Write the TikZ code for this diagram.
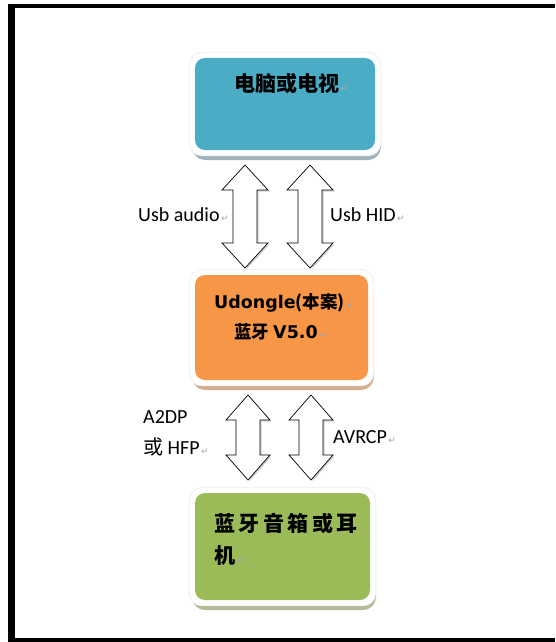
\documentclass[tikz,border=0pt]{standalone}
\usepackage{fontspec}
\setmainfont{Carlito}
\newfontfamily\cjk{Noto Sans CJK SC}
\newfontfamily\djv{DejaVu Sans}
\definecolor{boxblue}{HTML}{4BACC6}
\definecolor{boxorange}{HTML}{F79646}
\definecolor{boxgreen}{HTML}{9BBB59}
\definecolor{shblue}{HTML}{9FB4BA}
\definecolor{shorange}{HTML}{D2AE92}
\definecolor{shgreen}{HTML}{B0BC98}
\newcommand{\pmark}{{\djv\fontsize{9}{9}\selectfont\color{gray!70}\,↵}}
\newcommand{\dblarr}[4]{%
  \fill[gray!35] ({#1+1.5},{#2+1.5}) -- ({#1+#4+1.5},{#2+26.5}) -- ({#1+13.5},{#2+26.5}) -- ({#1+13.5},{#3-23.5}) -- ({#1+#4+1.5},{#3-23.5}) -- ({#1+1.5},{#3+1.5}) -- cycle;
  \draw[arrowline] ({#1},{#2}) -- ({#1+#4},{#2+25}) -- ({#1+12},{#2+25}) -- ({#1+12},{#3-25}) -- ({#1+#4},{#3-25}) -- ({#1},{#3}) -- ({#1-#4},{#3-25}) -- ({#1-12},{#3-25}) -- ({#1-12},{#2+25}) -- ({#1-#4},{#2+25}) -- cycle;}
% rim and shadow behind a box: left, top, right, bottom, shadow colour
\newcommand{\boxrim}[5]{%
  \fill[#5, rounded corners=13pt] ({#1+2},{#2+8}) rectangle ({#3+1},{#4+5});
  \fill[gray!10, rounded corners=13pt] ({#1-1.2},{#2-1.2}) rectangle ({#3+1.2},{#4+1.2});
  \fill[white, rounded corners=12pt] (#1,#2) rectangle (#3,#4);}
\tikzset{
  box/.style={rounded corners=10pt, inner sep=0pt},
  arrowline/.style={draw=black, line width=0.7pt, fill=white, line join=miter},
  lbl/.style={anchor=west, inner sep=0pt, font=\fontsize{20}{22}\selectfont},
  cjktext/.style={inner sep=0pt, font=\cjk\bfseries\fontsize{21}{24}\selectfont}
}
\begin{document}
\begin{tikzpicture}[x=1pt,y=-1pt]
\useasboundingbox (0,0) rectangle (555,642);
% frame
\fill[black] (8,4) rectangle (555,8);
\fill[black] (8,4) rectangle (15,642);
\fill[black] (8,638) rectangle (555,642);
% boxes
\boxrim{190}{53}{380}{155}{shblue}
\node[box, fill=boxblue, minimum width=180pt, minimum height=92pt] (pc) at (285,104) {};
\boxrim{190}{270}{373}{385}{shorange}
\node[box, fill=boxorange, minimum width=173pt, minimum height=105pt] (ud) at (281.5,327.5) {};
\boxrim{190}{488}{375}{605}{shgreen}
\node[box, fill=boxgreen, minimum width=175pt, minimum height=107pt] (sp) at (282.5,546.5) {};
% box texts
\node[cjktext, anchor=west] (pct) at (234,84) {电脑或电视\pmark};
\node[inner sep=0pt, anchor=west, font=\fontsize{17.5}{20}\selectfont] (udt1) at (214,303) {\djv\bfseries Udongle\cjk\bfseries (本案)\pmark};
\node[inner sep=0pt, anchor=west, font=\fontsize{17.5}{20}\selectfont] (udt2) at (234,332) {\cjk\bfseries 蓝牙 \djv\bfseries V5.0\pmark};
\node[cjktext, anchor=west] (spt1) at (214,524) {蓝\,牙\,音\,箱\,或\,耳};
\node[cjktext, anchor=west] (spt2) at (214,556) {机\pmark};
% arrows
\dblarr{245}{165}{268}{23}
\dblarr{310}{165}{268}{23}
\dblarr{248}{395}{480}{22}
\dblarr{311}{395}{480}{22}
% labels
\node[lbl] (l1) at (138,215) {Usb audio\pmark};
\node[lbl] (l2) at (330,215) {Usb HID\pmark};
\node[lbl] (l3) at (143,417) {A2DP};
\node[lbl] (l4) at (143,447) {{\cjk 或} HFP\pmark};
\node[lbl] (l5) at (333,437) {AVRCP\pmark};
\end{tikzpicture}
\end{document}
